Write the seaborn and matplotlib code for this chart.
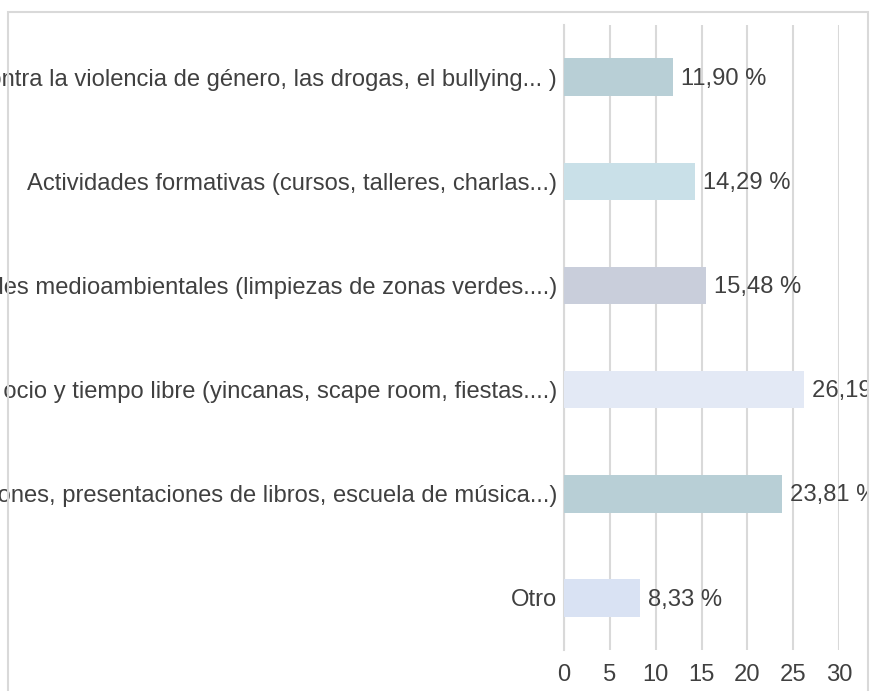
import matplotlib
matplotlib.use("Agg")
import matplotlib.pyplot as plt
from matplotlib.patches import Rectangle
import seaborn as sns
import pandas as pd

categorias = [
    "Actividades de sensibilización contra la violencia de género, las drogas, el bullying... )",
    "Actividades formativas (cursos, talleres, charlas...)",
    "Actividades medioambientales (limpiezas de zonas verdes....)",
    "Actividades de ocio y tiempo libre (yincanas, scape room, fiestas....)",
    "Actividades culturales (exposiciones, presentaciones de libros, escuela de música...)",
    "Otro",
]
porcentajes = [11.90, 14.29, 15.48, 26.19, 23.81, 8.33]
colores = ["#B8CFD6", "#C9E0E8", "#C9CEDB", "#E3E9F5", "#B8CFD6", "#D9E2F3"]
ticks_x = [0, 5, 10, 15, 20, 25, 30]

sns.set_theme(style="white")
plt.rcParams["font.family"] = ["Liberation Sans", "DejaVu Sans"]

W, H = 872, 691
fig = plt.figure(figsize=(W / 100, H / 100), dpi=100)
ax = fig.add_axes([564 / W, 1 - 650 / H, (839 - 564) / W, (650 - 25) / H])

df = pd.DataFrame({"categoria": categorias, "valor": porcentajes})
sns.barplot(data=df, x="valor", y="categoria", hue="categoria", palette=colores,
            orient="h", width=0.36, saturation=1, linewidth=0, legend=False,
            ax=ax, zorder=3)

texto = "#404040"
rejilla = "#D9D9D9"
fs = 17.1
ax.set_xlim(0, 30)
ax.set_ylim(5.5, -0.5)
ax.set_xticks(ticks_x)
ax.grid(axis="x", color=rejilla, linewidth=1.5, zorder=0)
ax.set_axisbelow(True)
for s in ["top", "right", "bottom"]:
    ax.spines[s].set_visible(False)
ax.spines["left"].set_color(rejilla)
ax.spines["left"].set_linewidth(1.5)
ax.set_xlabel("")
ax.set_ylabel("")
ax.tick_params(axis="both", length=0, labelsize=fs, colors=texto)
ax.tick_params(axis="y", pad=5)
ax.tick_params(axis="x", pad=10)

# outer frame of the chart area
marco = Rectangle((8 / W, -0.05), (868 - 8) / W, 1.05 - 12 / H,
                  transform=fig.transFigure, fill=False,
                  edgecolor=rejilla, linewidth=1.5, zorder=0)
fig.patches.append(marco)

for i, v in enumerate(porcentajes):
    etiqueta = f"{v:.2f}".replace(".", ",") + " %"
    t = ax.annotate(etiqueta, xy=(v, i), xytext=(5.8, -1.2), textcoords="offset points",
                    ha="left", va="center", fontsize=fs, color=texto,
                    annotation_clip=False)
    t.set_clip_path(marco)

fig.savefig("out.png", dpi=100)
